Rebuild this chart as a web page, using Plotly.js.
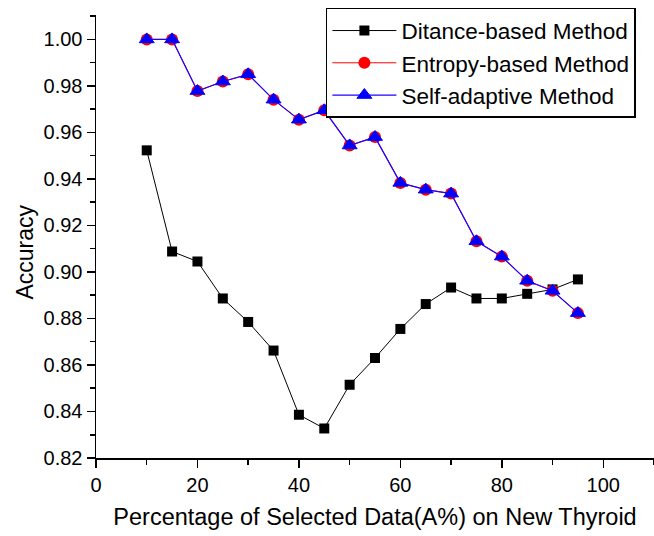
<!DOCTYPE html>
<html>
<head>
<meta charset="utf-8">
<script src="https://cdn.plot.ly/plotly-3.0.1.min.js"></script>
<style>html,body{margin:0;padding:0;background:#fff;}#chart{width:654px;height:536px;}</style>
</head>
<body>
<div id="chart"></div>
<script>
const percentages = [10, 15, 20, 25, 30, 35, 40, 45, 50, 55, 60, 65, 70, 75, 80, 85, 90, 95];
const distanceAcc = [0.9523, 0.9088, 0.9045, 0.8886, 0.8785, 0.8662, 0.8386, 0.8327, 0.8515, 0.8630, 0.8755, 0.8862, 0.8933, 0.8886, 0.8886, 0.8906, 0.8925, 0.8968];
const entropyAcc = [1.0000, 1.0000, 0.9778, 0.9819, 0.9850, 0.9741, 0.9655, 0.9695, 0.9544, 0.9580, 0.9383, 0.9354, 0.9337, 0.9132, 0.9066, 0.8962, 0.8919, 0.8823];
const selfAdaptiveAcc = [1.0000, 1.0000, 0.9778, 0.9819, 0.9850, 0.9741, 0.9655, 0.9695, 0.9544, 0.9580, 0.9383, 0.9354, 0.9337, 0.9132, 0.9066, 0.8962, 0.8919, 0.8823];
const seriesNames = ['Ditance-based Method', 'Entropy-based Method', 'Self-adaptive Method'];

const FONT = 'Liberation Sans, Arial, sans-serif';

const traces = [
  {x: percentages, y: distanceAcc, name: seriesNames[0], type: 'scatter', mode: 'lines+markers',
   line: {color: '#000000', width: 1}, marker: {symbol: 'square', size: 10, color: '#000000'}},
  {x: percentages, y: entropyAcc, name: seriesNames[1], type: 'scatter', mode: 'lines+markers',
   line: {color: '#ff0000', width: 1}, marker: {symbol: 'circle', size: 12, color: '#ff0000'}},
  {x: percentages, y: selfAdaptiveAcc, name: seriesNames[2], type: 'scatter', mode: 'lines+markers',
   line: {color: '#2000ff', width: 1.2}, marker: {symbol: 'triangle-up', size: 13, color: '#0000ff', line: {color: '#0000ff', width: 1}}}
];

const layout = {
  width: 654, height: 536,
  margin: {l: 96, r: 0, t: 15, b: 78},
  paper_bgcolor: '#ffffff', plot_bgcolor: '#ffffff',
  font: {family: FONT, color: '#000000'},
  showlegend: true,
  legend: {x: 0.412, y: 1.016, xanchor: 'left', yanchor: 'top',
    bgcolor: '#ffffff', bordercolor: '#000000', borderwidth: 1.5, itemwidth: 64,
    font: {family: FONT, size: 22.5, color: '#000000'}, tracegroupgap: 0},
  xaxis: {range: [0, 110], dtick: 20, tick0: 0, showgrid: false, zeroline: false,
    showline: true, linecolor: '#000000', linewidth: 1.5, mirror: false,
    ticks: 'outside', ticklen: 8, tickwidth: 1.5, tickcolor: '#000000',
    minor: {dtick: 10, ticks: 'outside', ticklen: 5, tickwidth: 1.5, tickcolor: '#000000', showgrid: false},
    tickfont: {family: FONT, size: 20, color: '#000000'},
    title: {text: 'Percentage of Selected Data(A%) on New Thyroid', font: {family: FONT, size: 23.5, color: '#000000'}, standoff: 14}},
  yaxis: {range: [0.82, 1.0105], dtick: 0.02, tick0: 0.82, tickformat: '.2f', showgrid: false, zeroline: false,
    showline: true, linecolor: '#000000', linewidth: 1.5, mirror: false,
    ticks: 'outside', ticklen: 8, tickwidth: 1.5, tickcolor: '#000000',
    minor: {dtick: 0.01, ticks: 'outside', ticklen: 5, tickwidth: 1.5, tickcolor: '#000000', showgrid: false},
    tickfont: {family: FONT, size: 20, color: '#000000'}},
  annotations: [{text: 'Accuracy', xref: 'paper', yref: 'paper', x: -0.128, y: 0.465,
    xanchor: 'center', yanchor: 'middle', textangle: -90, showarrow: false,
    font: {family: FONT, size: 23, color: '#000000'}}]
};

Plotly.newPlot('chart', traces, layout, {displayModeBar: false, staticPlot: true});
</script>
</body>
</html>
